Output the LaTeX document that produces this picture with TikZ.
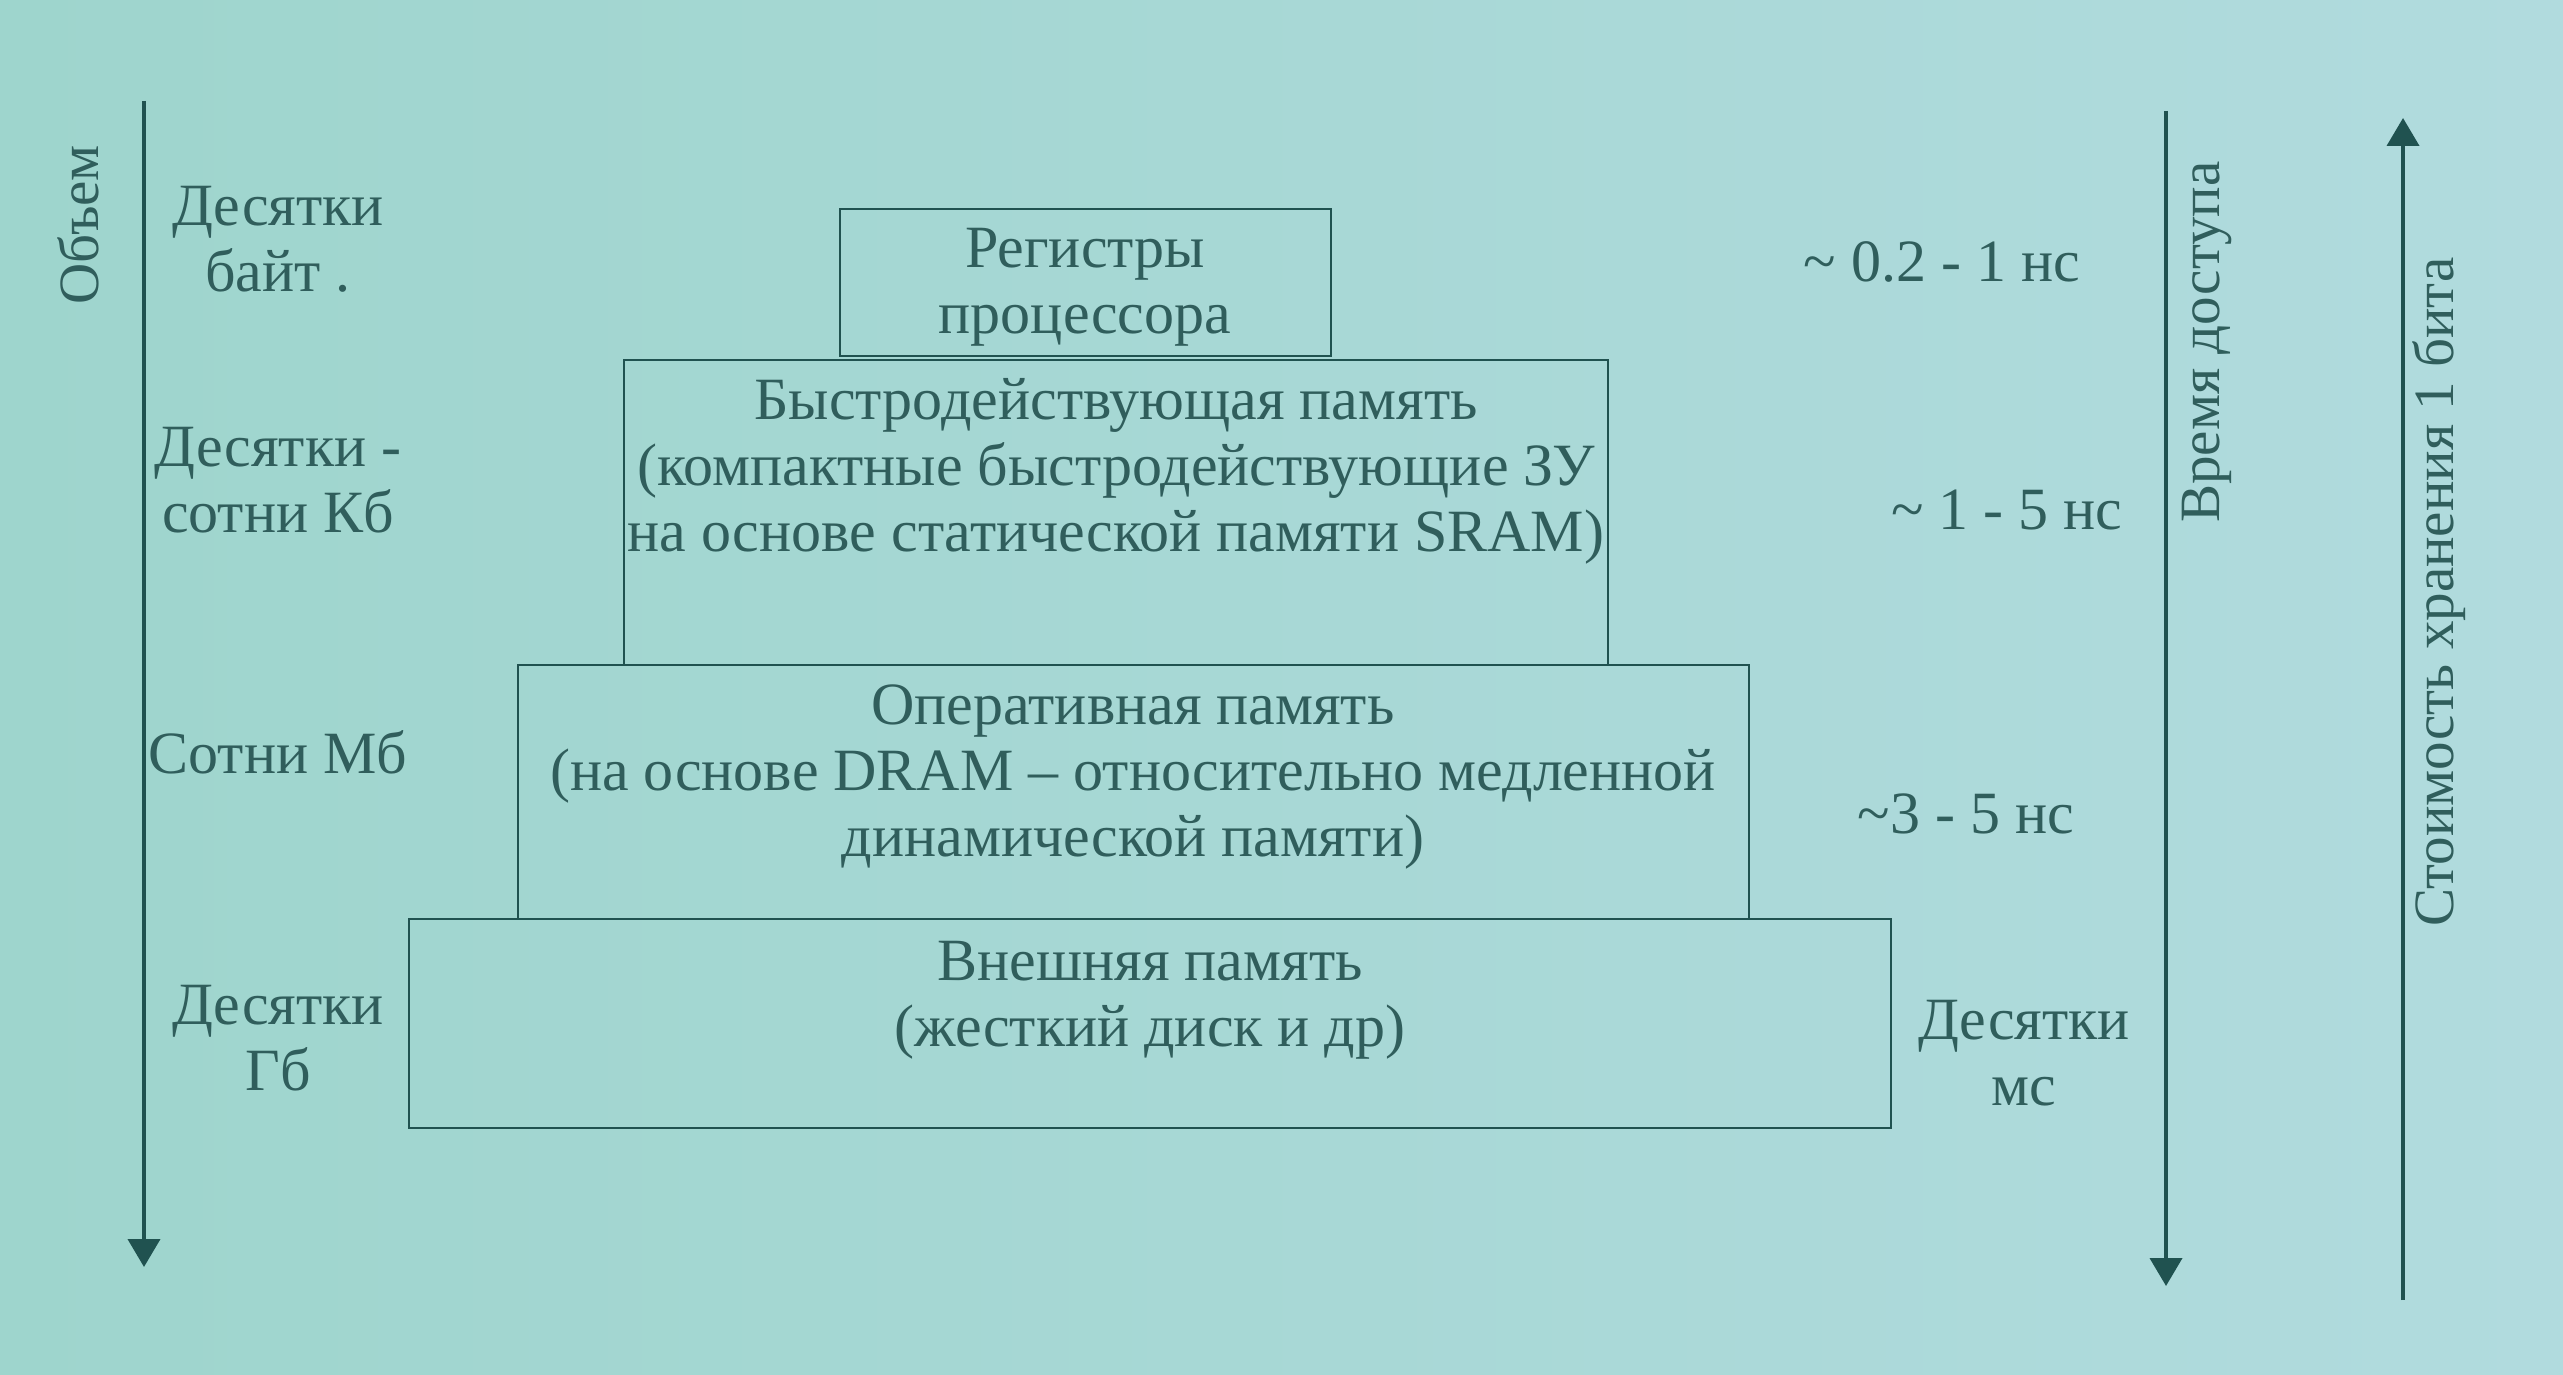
\documentclass[tikz,border=0pt]{standalone}
\usepackage{fontspec}
\setmainfont{Liberation Serif}
\usetikzlibrary{arrows.meta}
\definecolor{bgA}{RGB}{158,213,205}
\definecolor{bgB}{RGB}{177,219,222}
\definecolor{ink}{RGB}{48,94,92}
\definecolor{linec}{RGB}{32,82,80}
\tikzset{
  membox/.style={draw=linec, line width=1.4pt, rectangle, inner sep=0pt},
  lbl/.style={text=ink, font=\fontsize{30}{33}\selectfont, align=center, inner sep=0pt},
  vlbl/.style={text=ink, font=\fontsize{28.5}{32}\selectfont, rotate=90, inner sep=0pt},
  axis/.style={draw=linec, line width=2pt, -{Triangle[width=16pt,length=14pt]}},
}
\begin{document}
\begin{tikzpicture}[x=0.5pt,y=-0.5pt]
\fill[left color=bgA, right color=bgB] (0,0) rectangle (2563,1375);
\useasboundingbox (0,0) rectangle (2563,1375);

% boxes
\node[membox, minimum width=245.5pt, minimum height=73.5pt] (b1) at (1085.5,282.5) {};
\node[membox, minimum width=492pt, minimum height=152.5pt] (b2) at (1116,512.5) {};
\node[membox, minimum width=615.5pt, minimum height=127pt] (b3) at (1133.5,792) {};
\node[membox, minimum width=741pt, minimum height=104.5pt] (b4) at (1150,1023.5) {};

% box texts
\node[lbl] (t1) at (1085,287) {Регистры\\процессора};
\node[lbl] (t2) at (1116,471) {Быстродействующая память\\(компактные быстродействующие ЗУ\\на основе статической памяти SRAM)};
\node[lbl] (t3) at (1133,777) {Оперативная память\\(на основе DRAM – относительно медленной\\динамической памяти)};
\node[lbl] (t4) at (1150,1000) {Внешняя память\\(жесткий диск и др)};

% left labels
\node[lbl] (l1) at (278,239) {Десятки\\байт .};
\node[lbl] (l2) at (278,480) {Десятки -\\сотни Кб};
\node[lbl] (l3) at (278,752) {Сотни Мб};
\node[lbl] (l4) at (278,1038) {Десятки\\Гб};

% right labels
\node[lbl] (r1) at (1942,262) {\textasciitilde{} 0.2 - 1 нс};
\node[lbl] (r2) at (2007,510) {\textasciitilde{} 1 - 5 нс};
\node[lbl] (r3) at (1966,814) {\textasciitilde3 - 5 нс};
\node[lbl] (r4) at (2024,1053) {Десятки\\мс};

% axes
\coordinate (a1s) at (144,101);
\coordinate (a1e) at (144,1267);
\coordinate (a2s) at (2166,111);
\coordinate (a2e) at (2166,1286);
\coordinate (a3s) at (2403,1300);
\coordinate (a3e) at (2403,118);
\draw[axis] (a1s) -- (a1e);
\draw[axis] (a2s) -- (a2e);
\draw[axis] (a3s) -- (a3e);

% axis labels
\node[vlbl] (v1) at (78,225) {Объем};
\node[vlbl] (v2) at (2207,342) {Время доступа};
\node[vlbl] (v3) at (2439,592) {Стоимость хранения 1 бита};
\end{tikzpicture}
\end{document}
